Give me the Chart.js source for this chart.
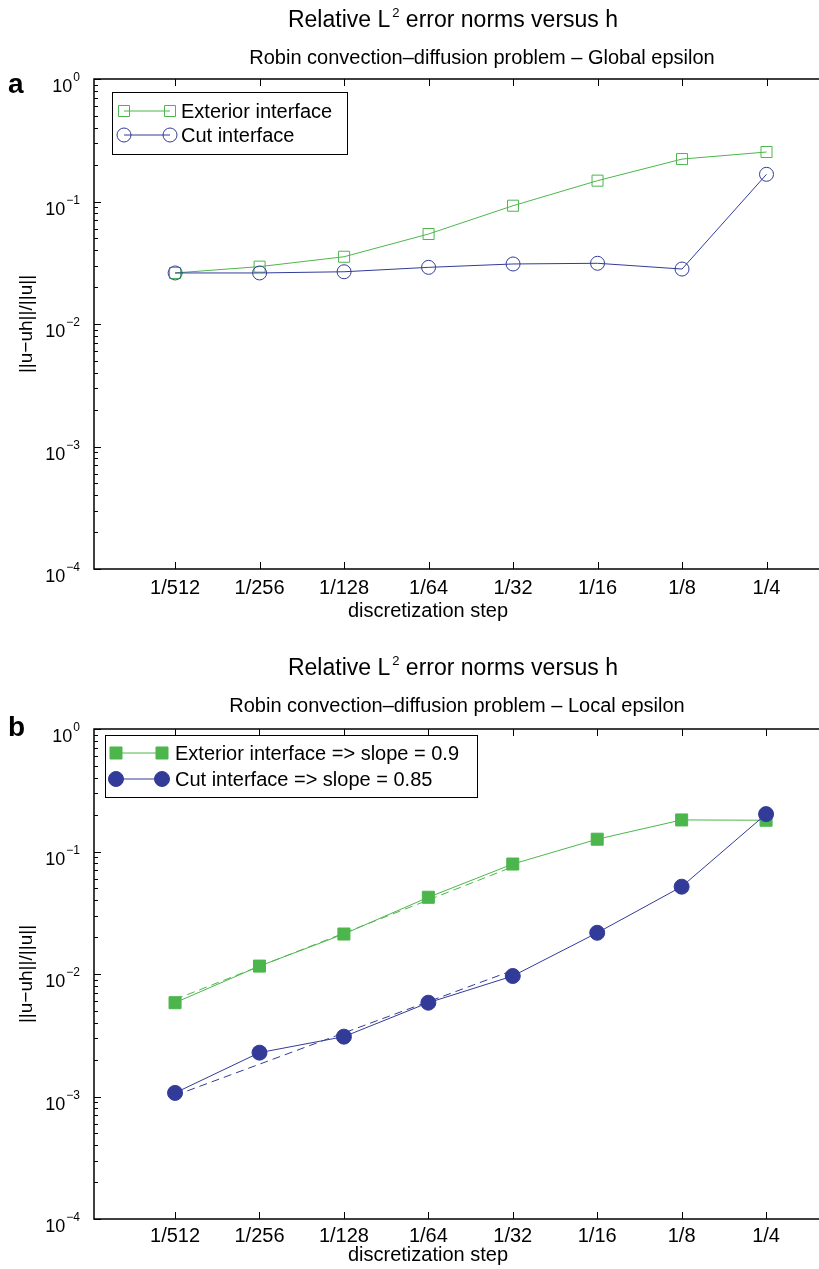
<!DOCTYPE html>
<html lang="en">
<head>
<meta charset="UTF-8">
<title>Relative L2 error norms versus h</title>
<script src="https://cdn.jsdelivr.net/npm/chart.js"></script>
<style>
  html, body { margin: 0; padding: 0; background: #fff; overflow: hidden; }
  body { width: 819px; height: 1269px; position: relative; }
  .panel { position: absolute; left: 0; }
  #panelA { top: 0; }
  #panelB { top: 650px; }
</style>
</head>
<body>
<div class="panel" id="panelA"><canvas id="chartA" width="860" height="640"></canvas></div>
<div class="panel" id="panelB"><canvas id="chartB" width="860" height="619"></canvas></div>
<script>
// discretization steps h and their labels
const steps = [1/512, 1/256, 1/128, 1/64, 1/32, 1/16, 1/8, 1/4];
const stepLabels = ['1/512', '1/256', '1/128', '1/64', '1/32', '1/16', '1/8', '1/4'];
const decades = [1, 0.1, 0.01, 0.001, 0.0001];
const decadeExps = ['0', '\u22121', '\u22122', '\u22123', '\u22124'];

// global epsilon
const globalExterior = [0.0261, 0.0294, 0.0354, 0.0543, 0.0924, 0.148, 0.222, 0.2535];
const globalCut = [0.0261, 0.0261, 0.0267, 0.0290, 0.0309, 0.0313, 0.0281, 0.1667];

// local epsilon
const localExterior = [0.00583, 0.0116, 0.0212, 0.0423, 0.079, 0.126, 0.181, 0.180];
const localCut = [0.00107, 0.00228, 0.00308, 0.00583, 0.00963, 0.0217, 0.0516, 0.202];

// slope lines, from 1/512 to 1/32
const fitSteps = [1/512, 1/32];
const fitExterior = [0.0062, 0.075];   // slope 0.9
const fitCut = [0.00102, 0.0107];      // slope 0.85

const GREEN = '#4cb64c';
const BLUE = '#323b98';
const FONT = "'Liberation Sans', Arial, Helvetica, sans-serif";

const pts = (xs, ys) => xs.map((h, i) => ({ x: h, y: ys[i] }));

function series(label, data, color, style, radius, filled, order) {
  return {
    label, data: pts(steps, data), showLine: true, order,
    borderColor: color, borderWidth: 1, tension: 0,
    pointStyle: style, pointRadius: radius, pointHoverRadius: radius,
    pointBorderColor: color, pointBorderWidth: 1,
    pointBackgroundColor: filled ? color : 'rgba(0,0,0,0)'
  };
}

function fitLine(data, color, order) {
  return {
    label: '', data: pts(fitSteps, data), showLine: true, order,
    borderColor: color, borderWidth: 1, borderDash: [8, 5], pointRadius: 0
  };
}

function measure(ctx, font, s) { ctx.font = font; return ctx.measureText(s).width; }

function drawTitle(ctx, cx, y) {
  const big = '23px ' + FONT, small = '13px ' + FONT;
  const a = 'Relative L', b = ' error norms versus h';
  const wa = measure(ctx, big, a), ws = measure(ctx, small, '2') + 2, wb = measure(ctx, big, b);
  let x = cx - (wa + ws + wb) / 2;
  ctx.textAlign = 'left';
  ctx.font = big; ctx.fillText(a, x, y); x += wa + 2;
  ctx.font = small; ctx.fillText('2', x, y - 10); x += ws - 2;
  ctx.font = big; ctx.fillText(b, x, y);
}

function marker(ctx, x, y, style, r, color, filled) {
  ctx.beginPath();
  if (style === 'rect') {
    const s = r * Math.SQRT1_2;
    ctx.rect(x - s, y - s, 2 * s, 2 * s);
  } else {
    ctx.arc(x, y, r, 0, Math.PI * 2);
  }
  ctx.strokeStyle = color; ctx.lineWidth = 1;
  if (filled) { ctx.fillStyle = color; ctx.fill(); }
  ctx.stroke();
}

// axes box, inward ticks, labels, titles and legend
const framePlugin = {
  id: 'frame',
  afterDatasetsDraw(chart, args, o) {
    const { ctx, chartArea: a, scales: { x, y } } = chart;
    ctx.save();
    ctx.strokeStyle = '#000';
    ctx.lineWidth = 1;
    ctx.beginPath();
    steps.forEach(h => {
      const px = Math.round(x.getPixelForValue(h)) + 0.5;
      ctx.moveTo(px, a.bottom); ctx.lineTo(px, a.bottom - 7);
      ctx.moveTo(px, a.top); ctx.lineTo(px, a.top + 7);
    });
    decades.forEach((d, k) => {
      const py = Math.round(y.getPixelForValue(d)) + 0.5;
      ctx.moveTo(a.left, py); ctx.lineTo(a.left + 7, py);
      ctx.moveTo(a.right, py); ctx.lineTo(a.right - 7, py);
      if (d < 1) {
        for (let m = 2; m <= 9; m++) {
          const my = Math.round(y.getPixelForValue(d * m)) + 0.5;
          ctx.moveTo(a.left, my); ctx.lineTo(a.left + 4, my);
          ctx.moveTo(a.right, my); ctx.lineTo(a.right - 4, my);
        }
      }
    });
    ctx.stroke();
    ctx.lineWidth = 1.5;
    ctx.strokeRect(a.left, a.top, a.right - a.left, a.bottom - a.top);

    ctx.fillStyle = '#000';
    ctx.textBaseline = 'alphabetic';

    // x tick labels
    ctx.font = '20px ' + FONT;
    ctx.textAlign = 'center';
    steps.forEach((h, i) => ctx.fillText(stepLabels[i], x.getPixelForValue(h), a.bottom + o.tickGap));
    ctx.fillText('discretization step', 428, a.bottom + o.xTitleGap);

    // y tick labels 10^k
    decades.forEach((d, k) => {
      const py = y.getPixelForValue(d);
      const we = measure(ctx, '12px ' + FONT, decadeExps[k]);
      ctx.textAlign = 'right';
      ctx.font = '12px ' + FONT;
      ctx.fillText(decadeExps[k], 80, py + 2);
      ctx.font = '18px ' + FONT;
      ctx.fillText('10', 80 - we - 1, py + 13);
    });

    // y axis title
    ctx.save();
    ctx.translate(27, (a.top + a.bottom) / 2);
    ctx.rotate(-Math.PI / 2);
    ctx.textAlign = 'center';
    ctx.textBaseline = 'middle';
    ctx.font = '19px ' + FONT;
    ctx.fillText('||u\u2212uh||/||u||', 0, 0);
    ctx.restore();

    // titles and panel letter
    drawTitle(ctx, 453, o.titleY);
    ctx.textAlign = 'center';
    ctx.font = '20px ' + FONT;
    ctx.fillText(o.subtitle, o.subX, o.subY);
    ctx.textAlign = 'left';
    ctx.font = 'bold 28px ' + FONT;
    ctx.fillText(o.letter, 8, o.letterY);

    // legend
    const L = o.legend;
    ctx.fillStyle = '#fff';
    ctx.fillRect(L.x, L.y, L.w, L.h);
    ctx.strokeStyle = '#000';
    ctx.lineWidth = 1;
    ctx.strokeRect(L.x + 0.5, L.y + 0.5, L.w, L.h);
    L.rows.forEach((r, i) => {
      const ry = L.y + L.rowY[i];
      ctx.beginPath();
      ctx.moveTo(L.m1, ry); ctx.lineTo(L.m2, ry);
      ctx.strokeStyle = r.color; ctx.lineWidth = 1; ctx.stroke();
      marker(ctx, L.m1, ry, r.style, r.radius, r.color, r.filled);
      marker(ctx, L.m2, ry, r.style, r.radius, r.color, r.filled);
      ctx.fillStyle = '#000';
      ctx.font = '20px ' + FONT;
      ctx.textAlign = 'left';
      ctx.fillText(r.text, L.tx, ry + 7);
    });
    ctx.restore();
  }
};

function baseOptions(bottomPad, frame) {
  return {
    responsive: false,
    animation: false,
    events: [],
    layout: { padding: { left: 94, top: 79, right: 9, bottom: bottomPad } },
    plugins: { legend: { display: false }, tooltip: { enabled: false }, frame },
    scales: {
      x: { type: 'logarithmic', display: false, min: Math.pow(2, -9.96), max: 0.5 },
      y: { type: 'logarithmic', display: false, min: 1e-4, max: 1 }
    }
  };
}

new Chart(document.getElementById('chartA'), {
  type: 'scatter',
  data: {
    datasets: [
      series('Cut interface', globalCut, BLUE, 'circle', 7, false, 0),
      series('Exterior interface', globalExterior, GREEN, 'rect', 7.8, false, 1)
    ]
  },
  options: baseOptions(71, {
    letter: 'a', letterY: 93, titleY: 27,
    subtitle: 'Robin convection\u2013diffusion problem \u2013 Global epsilon', subX: 482, subY: 64,
    tickGap: 25, xTitleGap: 48,
    legend: {
      x: 112, y: 92, w: 235, h: 62, m1: 124, m2: 170, tx: 181, rowY: [19, 43],
      rows: [
        { text: 'Exterior interface', color: GREEN, style: 'rect', radius: 7.8, filled: false },
        { text: 'Cut interface', color: BLUE, style: 'circle', radius: 7, filled: false }
      ]
    }
  })
  ,
  plugins: [framePlugin]
});

new Chart(document.getElementById('chartB'), {
  type: 'scatter',
  data: {
    datasets: [
      series('Cut interface', localCut, BLUE, 'circle', 7.5, true, 0),
      series('Exterior interface', localExterior, GREEN, 'rect', 8.5, true, 1),
      fitLine(fitCut, BLUE, 2),
      fitLine(fitExterior, GREEN, 3)
    ]
  },
  options: baseOptions(50, {
    letter: 'b', letterY: 86, titleY: 25,
    subtitle: 'Robin convection\u2013diffusion problem \u2013 Local epsilon', subX: 457, subY: 62,
    tickGap: 23, xTitleGap: 42,
    legend: {
      x: 105, y: 85, w: 372, h: 62, m1: 116, m2: 162, tx: 175, rowY: [18, 44],
      rows: [
        { text: 'Exterior interface => slope = 0.9', color: GREEN, style: 'rect', radius: 8.5, filled: true },
        { text: 'Cut interface => slope = 0.85', color: BLUE, style: 'circle', radius: 7.5, filled: true }
      ]
    }
  }),
  plugins: [framePlugin]
});
</script>
</body>
</html>
